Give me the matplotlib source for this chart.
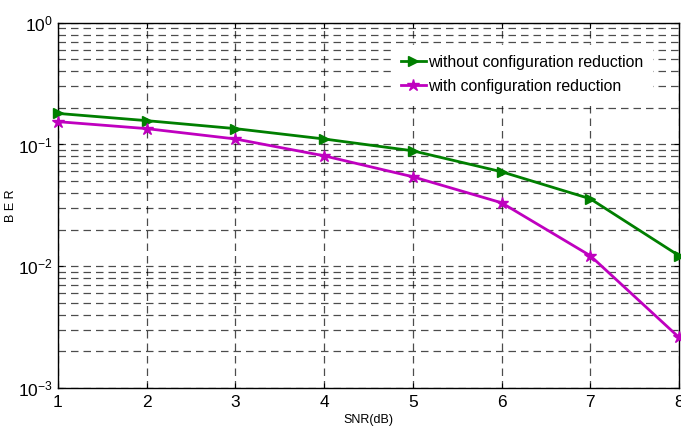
import matplotlib
matplotlib.use("Agg")
import matplotlib.pyplot as plt
from matplotlib.ticker import LogLocator, NullFormatter

plt.rcParams["font.family"] = ["Liberation Sans", "DejaVu Sans"]
plt.rcParams["mathtext.fontset"] = "custom"
plt.rcParams["mathtext.rm"] = "Liberation Sans"
plt.rcParams["mathtext.it"] = "Liberation Sans:italic"
plt.rcParams["mathtext.bf"] = "Liberation Sans:bold"

snr = [1, 2, 3, 4, 5, 6, 7, 8]
ber_without = [0.18, 0.157, 0.135, 0.111, 0.0887, 0.0597, 0.0358, 0.0122]
ber_with = [0.154, 0.135, 0.111, 0.0807, 0.0543, 0.0332, 0.0122, 0.0026]
labels = ["without configuration reduction", "with configuration reduction"]

fig = plt.figure(figsize=(6.81, 4.30), dpi=100)
ax = fig.add_axes([0.085, 0.098, 0.912, 0.849])

ax.plot(snr, ber_without, color="#007f00", marker=">", markersize=7,
        linewidth=2, label=labels[0], clip_on=False, zorder=3)
ax.plot(snr, ber_with, color="#bf00bf", marker="*", markersize=9,
        linewidth=2, label=labels[1], clip_on=False, zorder=3)

ax.set_yscale("log")
ax.set_xlim(1, 8)
ax.set_ylim(1e-3, 1)
ax.set_xticks(snr)
ax.yaxis.set_major_locator(LogLocator(base=10, numticks=10))
ax.yaxis.set_minor_locator(LogLocator(base=10, subs=range(2, 10), numticks=10))
ax.yaxis.set_minor_formatter(NullFormatter())

ax.grid(True, which="major", linestyle=(0, (6, 4)), color="black", linewidth=0.9, alpha=0.7)
ax.grid(True, which="minor", axis="y", linestyle=(0, (6, 4)), color="black", linewidth=0.9, alpha=0.7)

ax.tick_params(which="both", direction="in", labelsize=12.5, top=True, right=True)
ax.tick_params(which="minor", length=0)
ax.tick_params(axis="x", pad=5)
for s in ax.spines.values():
    s.set_linewidth(1.0)

ax.set_xlabel("SNR(dB)", fontsize=9, labelpad=3)
ax.set_ylabel("B E R", fontsize=9)
ax.yaxis.set_label_coords(-0.066, 0.5)

leg = ax.legend(loc="upper right", bbox_to_anchor=(0.97, 0.96), fontsize=11.4,
                frameon=True, fancybox=False, edgecolor="white", framealpha=1,
                handlelength=1.6, handletextpad=0.1, borderpad=0.6, labelspacing=0.55)

fig.savefig("out.png", dpi=100)
